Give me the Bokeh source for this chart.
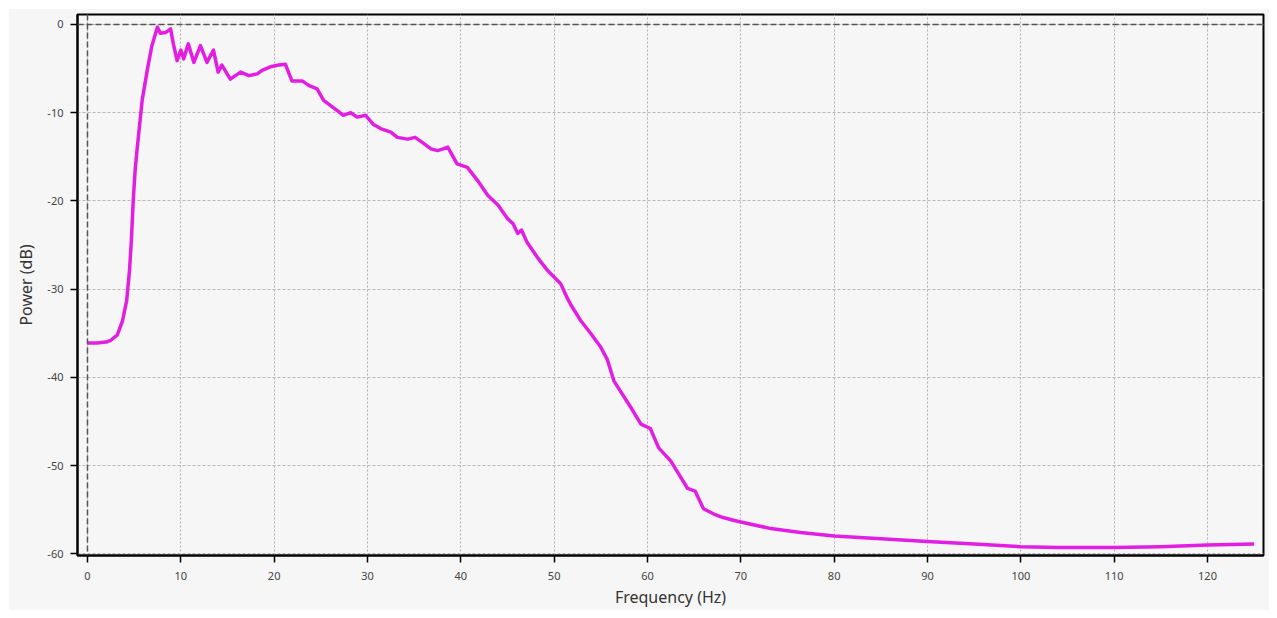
from bokeh.plotting import figure
from bokeh.models import Range1d, Span, FixedTicker, PrintfTickFormatter
from bokeh.embed import file_html
from bokeh.resources import INLINE

freq = [0, 1, 2, 2.5, 3.2, 3.75, 4.2, 4.5, 4.7, 4.9, 5.1, 5.3, 5.86, 6.4, 6.9, 7.5, 7.8, 8.4, 8.9,
        9.2, 9.6, 10, 10.3, 10.8, 11.4, 12.1, 12.8, 13.5, 14, 14.4, 15.3, 16.4, 17.3, 18.2, 18.7,
        19.6, 20.5, 21.2, 21.9, 23, 23.7, 24.6, 25.3, 26.8, 27.4, 28.2, 28.9, 29.8, 30.6, 31.4,
        32.5, 33.2, 34.3, 35.1, 35.9, 36.8, 37.5, 38.1, 38.6, 39.6, 40.7, 41.8, 42.9, 44.0, 45.0,
        45.6, 46.1, 46.5, 47.1, 48.2, 49.3, 50.7, 51.4, 51.8, 52.8, 53.9, 55.0, 55.7, 56.4, 58.2,
        59.3, 60.3, 61.2, 62.5, 63.6, 64.3, 65.1, 66.0, 67.1, 68.1, 69.2, 70, 73, 76.4, 80, 85,
        90, 95, 100, 104, 110, 115, 120, 125]
power = [-36.1, -36.1, -36.0, -35.8, -35.2, -33.6, -31.3, -27.9, -24.5, -20.0, -16.6, -14.3, -8.6,
         -5.2, -2.4, -0.3, -1.0, -0.9, -0.5, -2.2, -4.1, -2.9, -3.9, -2.2, -4.3, -2.4, -4.3, -2.9,
         -5.4, -4.6, -6.2, -5.4, -5.8, -5.6, -5.2, -4.8, -4.6, -4.5, -6.4, -6.4, -6.9, -7.3, -8.6,
         -9.8, -10.3, -10.0, -10.5, -10.3, -11.3, -11.8, -12.2, -12.8, -13.0, -12.8, -13.4, -14.1,
         -14.3, -14.1, -13.9, -15.8, -16.2, -17.7, -19.4, -20.5, -22.0, -22.6, -23.7, -23.3, -24.7,
         -26.4, -27.9, -29.4, -31.0, -31.8, -33.5, -35.0, -36.6, -38.0, -40.4, -43.4, -45.3, -45.8,
         -48.0, -49.5, -51.4, -52.6, -52.9, -54.9, -55.5, -55.9, -56.2, -56.4, -57.1, -57.6, -58.0,
         -58.3, -58.6, -58.9, -59.2, -59.3, -59.3, -59.2, -59.0, -58.9]

x_ticks = [0, 10, 20, 30, 40, 50, 60, 70, 80, 90, 100, 110, 120]
y_ticks = [0, -10, -20, -30, -40, -50, -60]

BG = "#f6f6f6"
FONT = "Noto Sans"

p = figure(width=1261, height=602, output_backend="svg", toolbar_location=None,
           x_range=Range1d(-1.07, 126.0), y_range=Range1d(-60.2, 1.13),
           min_border_left=69, min_border_right=6, min_border_top=6, min_border_bottom=55,
           background_fill_color=BG, border_fill_color=BG,
           outline_line_color="black", outline_line_width=2)
p.margin = (8, 0, 0, 8)

p.xaxis.ticker = FixedTicker(ticks=x_ticks)
p.yaxis.ticker = FixedTicker(ticks=y_ticks)
p.yaxis.formatter = PrintfTickFormatter(format="%d")
p.xaxis.formatter = PrintfTickFormatter(format="%d")
p.xaxis.axis_label = "Frequency (Hz)"
p.yaxis.axis_label = "Power (dB)"
for ax in (p.xaxis[0], p.yaxis[0]):
    ax.axis_line_color = "black"
    ax.axis_line_width = 2
    ax.major_tick_line_color = "black"
    ax.major_tick_line_width = 1.5
    ax.major_tick_out = 7
    ax.major_tick_in = 0
    ax.minor_tick_line_color = None
    ax.major_label_text_font = FONT
    ax.major_label_text_font_size = "11px"
    ax.major_label_text_color = "#444444"
    ax.axis_label_text_font = FONT
    ax.axis_label_text_font_size = "16px"
    ax.axis_label_text_font_style = "normal"
    ax.axis_label_text_color = "#333333"
p.xaxis.major_label_standoff = 9
p.xaxis.axis_label_standoff = 3
p.yaxis.major_label_standoff = 7
p.yaxis.axis_label_standoff = 7

p.xgrid.grid_line_color = "#b0b0b0"
p.xgrid.grid_line_dash = "2 2"
p.xgrid.grid_line_width = 1
p.ygrid.grid_line_color = "#b8b8b8"
p.ygrid.grid_line_dash = "3 2"
p.ygrid.grid_line_width = 1

p.add_layout(Span(location=0, dimension="width", line_color="#555555", line_dash="6 3", line_width=1.5))
p.add_layout(Span(location=0, dimension="height", line_color="#555555", line_dash="6 3", line_width=1.5))

p.line(freq, power, line_color="#e31ee3", line_width=3.5, line_join="round")

open("out.html", "w").write(file_html(p, INLINE))
